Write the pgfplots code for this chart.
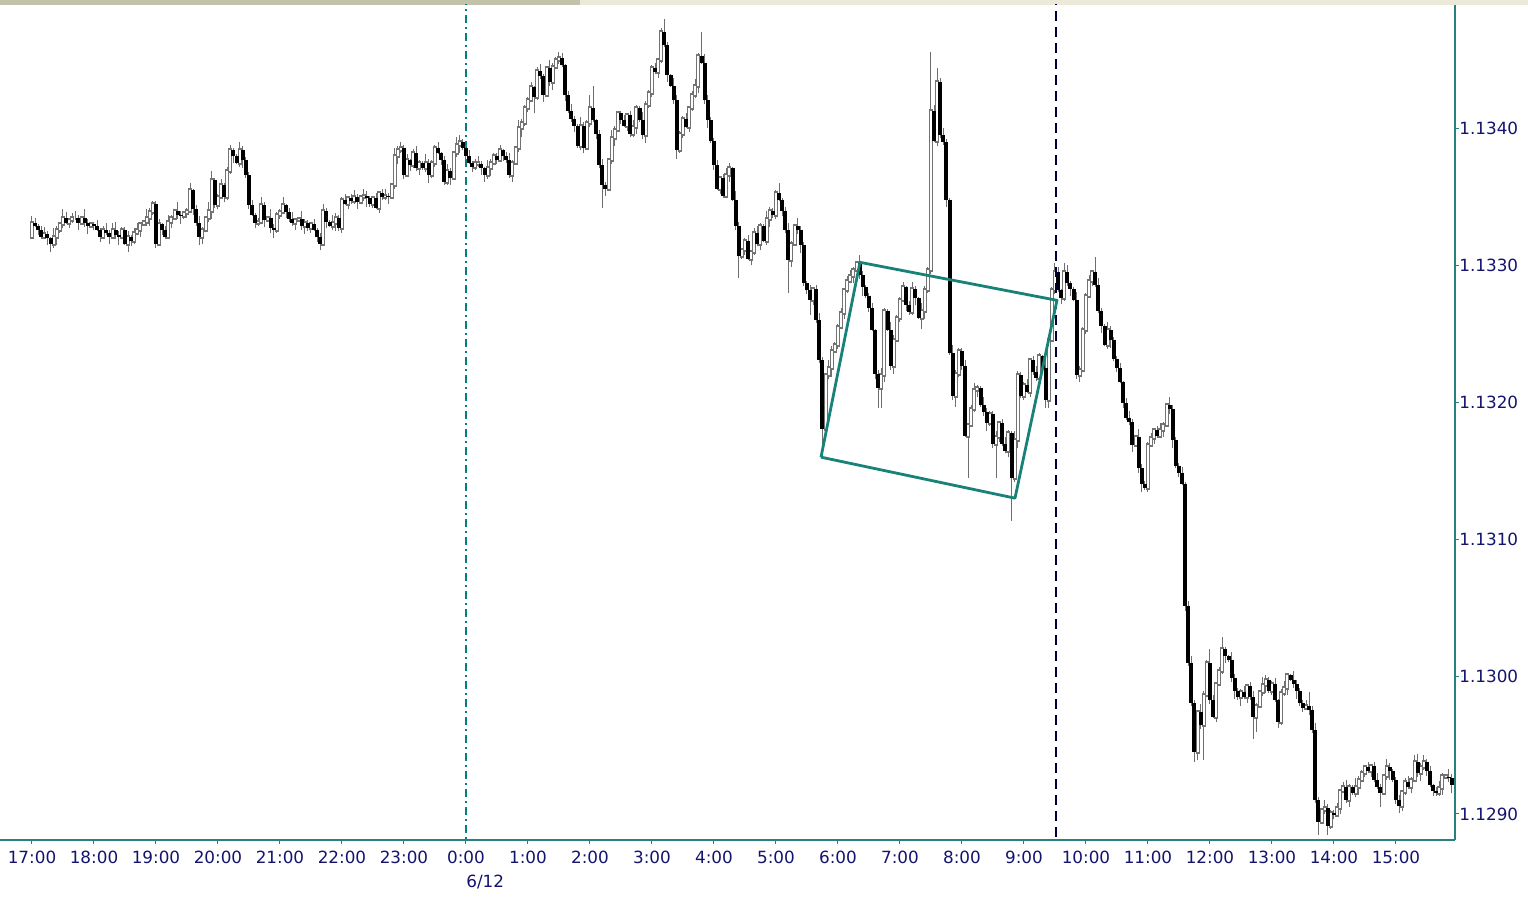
\documentclass[border=0pt]{standalone}
\usepackage{pgfplots}
\pgfplotsset{compat=1.18}
\usepackage{pgfplotstable}
\usepackage{fontspec}
\setmainfont{DejaVu Sans}
\definecolor{axisteal}{RGB}{40,128,128}
\definecolor{tickblue}{RGB}{20,20,110}
\definecolor{wick}{RGB}{110,110,110}
\definecolor{bodygray}{RGB}{115,115,115}
\definecolor{septeal}{RGB}{0,128,128}
\definecolor{cursor}{RGB}{0,0,60}
\definecolor{para}{RGB}{25,130,120}
\definecolor{bardark}{RGB}{196,193,170}
\definecolor{barlight}{RGB}{236,233,216}

\pgfplotstableread{
o h l c
1.13321 1.13336 1.13320 1.13331
1.13331 1.13335 1.13328 1.13329
1.13329 1.13330 1.13322 1.13326
1.13326 1.13329 1.13319 1.13321
1.13321 1.13328 1.13319 1.13323
1.13323 1.13325 1.13315 1.13320
1.13320 1.13321 1.13310 1.13316
1.13316 1.13327 1.13313 1.13321
1.13321 1.13329 1.13315 1.13326
1.13326 1.13332 1.13324 1.13330
1.13330 1.13341 1.13327 1.13335
1.13335 1.13339 1.13330 1.13331
1.13331 1.13334 1.13327 1.13333
1.13333 1.13338 1.13331 1.13335
1.13335 1.13340 1.13333 1.13335
1.13335 1.13337 1.13326 1.13331
1.13331 1.13336 1.13330 1.13335
1.13335 1.13341 1.13328 1.13331
1.13331 1.13334 1.13323 1.13329
1.13329 1.13332 1.13327 1.13330
1.13330 1.13332 1.13326 1.13329
1.13329 1.13333 1.13325 1.13326
1.13326 1.13327 1.13317 1.13321
1.13321 1.13329 1.13319 1.13326
1.13326 1.13331 1.13322 1.13324
1.13324 1.13326 1.13316 1.13321
1.13321 1.13331 1.13320 1.13326
1.13326 1.13332 1.13319 1.13322
1.13322 1.13325 1.13315 1.13321
1.13321 1.13328 1.13319 1.13326
1.13326 1.13328 1.13315 1.13316
1.13316 1.13325 1.13310 1.13321
1.13321 1.13322 1.13314 1.13318
1.13318 1.13327 1.13316 1.13324
1.13324 1.13331 1.13322 1.13326
1.13326 1.13332 1.13321 1.13330
1.13330 1.13333 1.13329 1.13332
1.13332 1.13341 1.13329 1.13335
1.13335 1.13342 1.13329 1.13339
1.13339 1.13347 1.13337 1.13345
1.13345 1.13347 1.13313 1.13316
1.13316 1.13334 1.13315 1.13330
1.13330 1.13331 1.13322 1.13326
1.13326 1.13329 1.13319 1.13321
1.13321 1.13337 1.13319 1.13332
1.13332 1.13337 1.13327 1.13335
1.13335 1.13341 1.13334 1.13340
1.13340 1.13346 1.13334 1.13337
1.13337 1.13340 1.13330 1.13336
1.13336 1.13340 1.13334 1.13338
1.13338 1.13342 1.13335 1.13340
1.13340 1.13360 1.13339 1.13355
1.13355 1.13356 1.13337 1.13341
1.13341 1.13344 1.13329 1.13331
1.13331 1.13336 1.13315 1.13321
1.13321 1.13328 1.13316 1.13326
1.13326 1.13336 1.13325 1.13335
1.13335 1.13346 1.13332 1.13340
1.13340 1.13369 1.13334 1.13362
1.13362 1.13364 1.13342 1.13344
1.13344 1.13352 1.13341 1.13350
1.13350 1.13363 1.13349 1.13359
1.13359 1.13360 1.13346 1.13350
1.13350 1.13372 1.13348 1.13369
1.13369 1.13388 1.13367 1.13384
1.13384 1.13386 1.13375 1.13380
1.13380 1.13381 1.13374 1.13375
1.13375 1.13390 1.13372 1.13384
1.13384 1.13387 1.13371 1.13377
1.13377 1.13379 1.13364 1.13366
1.13366 1.13368 1.13341 1.13344
1.13344 1.13348 1.13336 1.13337
1.13337 1.13338 1.13327 1.13331
1.13331 1.13335 1.13329 1.13332
1.13332 1.13350 1.13330 1.13344
1.13344 1.13346 1.13328 1.13333
1.13333 1.13336 1.13332 1.13335
1.13335 1.13341 1.13324 1.13327
1.13327 1.13330 1.13320 1.13326
1.13326 1.13339 1.13324 1.13337
1.13337 1.13341 1.13334 1.13339
1.13339 1.13350 1.13338 1.13344
1.13344 1.13345 1.13335 1.13339
1.13339 1.13342 1.13332 1.13334
1.13334 1.13339 1.13329 1.13331
1.13331 1.13335 1.13326 1.13333
1.13333 1.13335 1.13332 1.13334
1.13334 1.13340 1.13326 1.13329
1.13329 1.13334 1.13323 1.13331
1.13331 1.13333 1.13325 1.13327
1.13327 1.13332 1.13324 1.13330
1.13330 1.13334 1.13325 1.13326
1.13326 1.13327 1.13317 1.13321
1.13321 1.13324 1.13311 1.13316
1.13316 1.13345 1.13314 1.13340
1.13340 1.13342 1.13327 1.13332
1.13332 1.13333 1.13328 1.13329
1.13329 1.13337 1.13326 1.13331
1.13331 1.13338 1.13325 1.13335
1.13335 1.13337 1.13325 1.13327
1.13327 1.13350 1.13324 1.13348
1.13348 1.13352 1.13344 1.13345
1.13345 1.13350 1.13341 1.13349
1.13349 1.13352 1.13345 1.13347
1.13347 1.13355 1.13345 1.13350
1.13350 1.13352 1.13341 1.13346
1.13346 1.13351 1.13345 1.13350
1.13350 1.13356 1.13347 1.13351
1.13351 1.13354 1.13343 1.13349
1.13349 1.13351 1.13343 1.13345
1.13345 1.13351 1.13342 1.13349
1.13349 1.13353 1.13341 1.13342
1.13342 1.13354 1.13338 1.13353
1.13353 1.13356 1.13348 1.13350
1.13350 1.13356 1.13348 1.13351
1.13351 1.13353 1.13345 1.13350
1.13350 1.13360 1.13349 1.13359
1.13359 1.13386 1.13356 1.13380
1.13380 1.13387 1.13374 1.13384
1.13384 1.13390 1.13382 1.13386
1.13386 1.13388 1.13363 1.13366
1.13366 1.13381 1.13365 1.13377
1.13377 1.13378 1.13369 1.13373
1.13373 1.13385 1.13371 1.13382
1.13382 1.13387 1.13369 1.13371
1.13371 1.13377 1.13366 1.13375
1.13375 1.13376 1.13370 1.13371
1.13371 1.13381 1.13368 1.13375
1.13375 1.13378 1.13360 1.13366
1.13366 1.13377 1.13364 1.13375
1.13375 1.13388 1.13372 1.13386
1.13386 1.13390 1.13381 1.13382
1.13382 1.13383 1.13373 1.13377
1.13377 1.13380 1.13359 1.13361
1.13361 1.13374 1.13359 1.13369
1.13369 1.13371 1.13359 1.13364
1.13364 1.13383 1.13363 1.13382
1.13382 1.13394 1.13379 1.13388
1.13388 1.13395 1.13382 1.13390
1.13390 1.13392 1.13384 1.13386
1.13386 1.13388 1.13377 1.13380
1.13380 1.13384 1.13374 1.13375
1.13375 1.13376 1.13368 1.13372
1.13372 1.13378 1.13370 1.13375
1.13375 1.13380 1.13372 1.13374
1.13374 1.13376 1.13366 1.13371
1.13371 1.13372 1.13361 1.13366
1.13366 1.13377 1.13363 1.13371
1.13371 1.13378 1.13365 1.13375
1.13375 1.13382 1.13373 1.13380
1.13380 1.13382 1.13374 1.13377
1.13377 1.13388 1.13376 1.13384
1.13384 1.13385 1.13376 1.13380
1.13380 1.13383 1.13375 1.13377
1.13377 1.13382 1.13364 1.13366
1.13366 1.13377 1.13361 1.13375
1.13375 1.13387 1.13374 1.13386
1.13386 1.13406 1.13383 1.13400
1.13400 1.13407 1.13394 1.13404
1.13404 1.13417 1.13402 1.13415
1.13415 1.13423 1.13412 1.13421
1.13421 1.13434 1.13420 1.13430
1.13430 1.13431 1.13411 1.13423
1.13423 1.13445 1.13421 1.13442
1.13442 1.13447 1.13436 1.13438
1.13438 1.13440 1.13419 1.13424
1.13424 1.13445 1.13423 1.13444
1.13444 1.13450 1.13431 1.13434
1.13434 1.13448 1.13428 1.13445
1.13445 1.13452 1.13443 1.13450
1.13450 1.13456 1.13447 1.13451
1.13451 1.13455 1.13445 1.13446
1.13446 1.13447 1.13420 1.13424
1.13424 1.13427 1.13411 1.13413
1.13413 1.13418 1.13405 1.13407
1.13407 1.13409 1.13397 1.13402
1.13402 1.13403 1.13386 1.13387
1.13387 1.13408 1.13384 1.13402
1.13402 1.13405 1.13382 1.13386
1.13386 1.13406 1.13384 1.13404
1.13404 1.13424 1.13401 1.13415
1.13415 1.13431 1.13405 1.13406
1.13406 1.13407 1.13392 1.13396
1.13396 1.13399 1.13371 1.13373
1.13373 1.13378 1.13342 1.13359
1.13359 1.13361 1.13351 1.13356
1.13356 1.13378 1.13355 1.13377
1.13377 1.13399 1.13374 1.13393
1.13393 1.13402 1.13387 1.13399
1.13399 1.13413 1.13397 1.13411
1.13411 1.13413 1.13403 1.13406
1.13406 1.13410 1.13401 1.13402
1.13402 1.13411 1.13398 1.13410
1.13410 1.13413 1.13394 1.13396
1.13396 1.13406 1.13394 1.13401
1.13401 1.13417 1.13396 1.13415
1.13415 1.13416 1.13405 1.13406
1.13406 1.13412 1.13392 1.13395
1.13395 1.13420 1.13389 1.13417
1.13417 1.13428 1.13415 1.13426
1.13426 1.13446 1.13423 1.13444
1.13444 1.13448 1.13440 1.13441
1.13441 1.13451 1.13437 1.13450
1.13450 1.13473 1.13448 1.13470
1.13470 1.13480 1.13459 1.13461
1.13461 1.13463 1.13434 1.13439
1.13439 1.13440 1.13430 1.13431
1.13431 1.13437 1.13418 1.13421
1.13421 1.13424 1.13378 1.13384
1.13384 1.13398 1.13382 1.13396
1.13396 1.13409 1.13393 1.13407
1.13407 1.13411 1.13400 1.13401
1.13401 1.13416 1.13397 1.13415
1.13415 1.13427 1.13413 1.13424
1.13424 1.13436 1.13422 1.13431
1.13431 1.13455 1.13426 1.13453
1.13453 1.13470 1.13447 1.13448
1.13448 1.13454 1.13418 1.13421
1.13421 1.13424 1.13400 1.13406
1.13406 1.13408 1.13389 1.13391
1.13391 1.13393 1.13370 1.13373
1.13373 1.13377 1.13355 1.13356
1.13356 1.13365 1.13352 1.13364
1.13364 1.13367 1.13349 1.13351
1.13351 1.13371 1.13349 1.13366
1.13366 1.13375 1.13361 1.13371
1.13371 1.13372 1.13347 1.13348
1.13348 1.13354 1.13326 1.13329
1.13329 1.13332 1.13291 1.13307
1.13307 1.13313 1.13305 1.13311
1.13311 1.13320 1.13308 1.13318
1.13318 1.13322 1.13304 1.13305
1.13305 1.13311 1.13300 1.13310
1.13310 1.13327 1.13308 1.13324
1.13324 1.13329 1.13314 1.13316
1.13316 1.13331 1.13311 1.13329
1.13329 1.13330 1.13317 1.13318
1.13318 1.13340 1.13315 1.13334
1.13334 1.13343 1.13328 1.13340
1.13340 1.13342 1.13335 1.13337
1.13337 1.13355 1.13334 1.13353
1.13353 1.13360 1.13347 1.13348
1.13348 1.13349 1.13336 1.13340
1.13340 1.13343 1.13324 1.13326
1.13326 1.13331 1.13280 1.13304
1.13304 1.13318 1.13299 1.13316
1.13316 1.13330 1.13315 1.13329
1.13329 1.13335 1.13323 1.13326
1.13326 1.13329 1.13309 1.13315
1.13315 1.13317 1.13285 1.13287
1.13287 1.13289 1.13279 1.13282
1.13282 1.13286 1.13264 1.13275
1.13275 1.13284 1.13271 1.13283
1.13283 1.13286 1.13258 1.13260
1.13260 1.13265 1.13229 1.13231
1.13231 1.13233 1.13160 1.13181
1.13181 1.13221 1.13180 1.13220
1.13220 1.13231 1.13217 1.13225
1.13225 1.13241 1.13219 1.13238
1.13238 1.13244 1.13236 1.13242
1.13242 1.13257 1.13239 1.13255
1.13255 1.13269 1.13254 1.13265
1.13265 1.13283 1.13261 1.13282
1.13282 1.13292 1.13280 1.13289
1.13289 1.13297 1.13287 1.13292
1.13292 1.13299 1.13287 1.13297
1.13297 1.13303 1.13296 1.13302
1.13302 1.13308 1.13290 1.13293
1.13293 1.13296 1.13278 1.13284
1.13284 1.13286 1.13276 1.13278
1.13278 1.13280 1.13266 1.13269
1.13269 1.13273 1.13252 1.13253
1.13253 1.13254 1.13217 1.13221
1.13221 1.13224 1.13196 1.13211
1.13211 1.13225 1.13196 1.13220
1.13220 1.13269 1.13215 1.13267
1.13267 1.13268 1.13252 1.13253
1.13253 1.13259 1.13224 1.13227
1.13227 1.13249 1.13221 1.13246
1.13246 1.13264 1.13244 1.13262
1.13262 1.13277 1.13259 1.13275
1.13275 1.13288 1.13274 1.13284
1.13284 1.13285 1.13267 1.13271
1.13271 1.13274 1.13264 1.13266
1.13266 1.13288 1.13264 1.13283
1.13283 1.13285 1.13271 1.13276
1.13276 1.13277 1.13261 1.13262
1.13262 1.13273 1.13254 1.13267
1.13267 1.13285 1.13261 1.13282
1.13282 1.13299 1.13280 1.13297
1.13297 1.13456 1.13294 1.13413
1.13413 1.13417 1.13390 1.13391
1.13391 1.13444 1.13387 1.13434
1.13434 1.13437 1.13393 1.13395
1.13395 1.13400 1.13388 1.13390
1.13390 1.13392 1.13343 1.13348
1.13348 1.13349 1.13235 1.13236
1.13236 1.13242 1.13202 1.13205
1.13205 1.13224 1.13197 1.13221
1.13221 1.13240 1.13219 1.13238
1.13238 1.13240 1.13224 1.13227
1.13227 1.13231 1.13175 1.13176
1.13176 1.13185 1.13145 1.13184
1.13184 1.13198 1.13182 1.13195
1.13195 1.13214 1.13193 1.13209
1.13209 1.13213 1.13204 1.13211
1.13211 1.13212 1.13197 1.13198
1.13198 1.13204 1.13190 1.13193
1.13193 1.13196 1.13179 1.13185
1.13185 1.13194 1.13183 1.13192
1.13192 1.13194 1.13167 1.13170
1.13170 1.13179 1.13145 1.13175
1.13175 1.13186 1.13171 1.13185
1.13185 1.13188 1.13168 1.13170
1.13170 1.13175 1.13163 1.13165
1.13165 1.13180 1.13160 1.13178
1.13178 1.13179 1.13114 1.13145
1.13145 1.13179 1.13142 1.13173
1.13173 1.13223 1.13167 1.13220
1.13220 1.13222 1.13203 1.13205
1.13205 1.13215 1.13202 1.13213
1.13213 1.13217 1.13207 1.13208
1.13208 1.13232 1.13204 1.13231
1.13231 1.13234 1.13220 1.13222
1.13222 1.13227 1.13216 1.13218
1.13218 1.13236 1.13213 1.13234
1.13234 1.13235 1.13224 1.13225
1.13225 1.13231 1.13196 1.13202
1.13202 1.13249 1.13196 1.13246
1.13246 1.13284 1.13244 1.13282
1.13282 1.13302 1.13279 1.13295
1.13295 1.13299 1.13281 1.13282
1.13282 1.13283 1.13272 1.13276
1.13276 1.13302 1.13274 1.13295
1.13295 1.13300 1.13285 1.13287
1.13287 1.13289 1.13278 1.13283
1.13283 1.13284 1.13274 1.13275
1.13275 1.13281 1.13217 1.13220
1.13220 1.13227 1.13215 1.13224
1.13224 1.13255 1.13222 1.13253
1.13253 1.13280 1.13250 1.13278
1.13278 1.13293 1.13277 1.13289
1.13289 1.13296 1.13285 1.13295
1.13295 1.13306 1.13284 1.13286
1.13286 1.13291 1.13265 1.13267
1.13267 1.13269 1.13251 1.13256
1.13256 1.13257 1.13241 1.13242
1.13242 1.13259 1.13239 1.13253
1.13253 1.13256 1.13240 1.13246
1.13246 1.13248 1.13230 1.13232
1.13232 1.13234 1.13222 1.13225
1.13225 1.13229 1.13214 1.13215
1.13215 1.13216 1.13196 1.13200
1.13200 1.13203 1.13187 1.13189
1.13189 1.13194 1.13184 1.13186
1.13186 1.13188 1.13164 1.13169
1.13169 1.13176 1.13168 1.13175
1.13175 1.13181 1.13149 1.13152
1.13152 1.13155 1.13135 1.13141
1.13141 1.13143 1.13136 1.13138
1.13138 1.13171 1.13135 1.13169
1.13169 1.13178 1.13168 1.13174
1.13174 1.13181 1.13170 1.13180
1.13180 1.13183 1.13174 1.13176
1.13176 1.13185 1.13174 1.13180
1.13180 1.13186 1.13175 1.13184
1.13184 1.13199 1.13183 1.13198
1.13198 1.13204 1.13192 1.13195
1.13195 1.13198 1.13167 1.13173
1.13173 1.13175 1.13152 1.13154
1.13154 1.13156 1.13146 1.13149
1.13149 1.13153 1.13140 1.13141
1.13141 1.13142 1.13048 1.13052
1.13052 1.13055 1.13008 1.13010
1.13010 1.13015 1.12979 1.12981
1.12981 1.12983 1.12938 1.12945
1.12945 1.12975 1.12939 1.12974
1.12974 1.12980 1.12962 1.12965
1.12965 1.12990 1.12939 1.12987
1.12987 1.13012 1.12985 1.13010
1.13010 1.13020 1.12980 1.12983
1.12983 1.12987 1.12970 1.12971
1.12971 1.12996 1.12967 1.12995
1.12995 1.13007 1.12993 1.13004
1.13004 1.13029 1.13002 1.13020
1.13020 1.13022 1.13010 1.13015
1.13015 1.13016 1.13011 1.13012
1.13012 1.13018 1.12996 1.12999
1.12999 1.13002 1.12984 1.12990
1.12990 1.12992 1.12983 1.12985
1.12985 1.12991 1.12979 1.12989
1.12989 1.12993 1.12984 1.12985
1.12985 1.12994 1.12981 1.12993
1.12993 1.12996 1.12983 1.12985
1.12985 1.12990 1.12955 1.12971
1.12971 1.12981 1.12960 1.12979
1.12979 1.12990 1.12978 1.12989
1.12989 1.13000 1.12986 1.12994
1.12994 1.13001 1.12988 1.12998
1.12998 1.13000 1.12988 1.12990
1.12990 1.12997 1.12987 1.12995
1.12995 1.12999 1.12982 1.12983
1.12983 1.12984 1.12963 1.12967
1.12967 1.12991 1.12965 1.12988
1.12988 1.12997 1.12986 1.12992
1.12992 1.13003 1.12987 1.13001
1.13001 1.13002 1.12997 1.12998
1.12998 1.13004 1.12992 1.12995
1.12995 1.12998 1.12984 1.12990
1.12990 1.12992 1.12979 1.12981
1.12981 1.12983 1.12974 1.12977
1.12977 1.12983 1.12976 1.12979
1.12979 1.12989 1.12972 1.12976
1.12976 1.12979 1.12959 1.12961
1.12961 1.12966 1.12908 1.12910
1.12910 1.12912 1.12885 1.12894
1.12894 1.12904 1.12893 1.12903
1.12903 1.12910 1.12900 1.12904
1.12904 1.12907 1.12885 1.12891
1.12891 1.12903 1.12889 1.12901
1.12901 1.12903 1.12896 1.12899
1.12899 1.12908 1.12898 1.12904
1.12904 1.12918 1.12900 1.12917
1.12917 1.12923 1.12915 1.12920
1.12920 1.12925 1.12908 1.12910
1.12910 1.12922 1.12905 1.12920
1.12920 1.12921 1.12914 1.12915
1.12915 1.12926 1.12912 1.12920
1.12920 1.12928 1.12914 1.12925
1.12925 1.12932 1.12923 1.12930
1.12930 1.12936 1.12927 1.12934
1.12934 1.12938 1.12930 1.12931
1.12931 1.12936 1.12927 1.12935
1.12935 1.12938 1.12923 1.12925
1.12925 1.12930 1.12918 1.12920
1.12920 1.12922 1.12905 1.12915
1.12915 1.12929 1.12914 1.12928
1.12928 1.12940 1.12925 1.12934
1.12934 1.12937 1.12925 1.12931
1.12931 1.12933 1.12923 1.12925
1.12925 1.12927 1.12907 1.12910
1.12910 1.12914 1.12901 1.12906
1.12906 1.12917 1.12902 1.12916
1.12916 1.12926 1.12914 1.12923
1.12923 1.12928 1.12918 1.12920
1.12920 1.12927 1.12915 1.12925
1.12925 1.12943 1.12924 1.12938
1.12938 1.12944 1.12927 1.12930
1.12930 1.12937 1.12924 1.12934
1.12934 1.12943 1.12932 1.12938
1.12938 1.12940 1.12928 1.12931
1.12931 1.12935 1.12920 1.12921
1.12921 1.12922 1.12913 1.12917
1.12917 1.12920 1.12913 1.12915
1.12915 1.12924 1.12913 1.12919
1.12919 1.12930 1.12914 1.12928
1.12928 1.12929 1.12926 1.12927
1.12927 1.12933 1.12923 1.12926
1.12926 1.12929 1.12915 1.12921
}\candles

% Split the OHLC rows into three coordinate streams (wicks, rising bodies, falling bodies);
% each candle is one segment, candles are separated by nan (jump).
\pgfplotstablegetrowsof{\candles}
\pgfmathtruncatemacro\lastrow{\pgfplotsretval-1}
\gdef\wicks{}\gdef\ups{}\gdef\downs{}
\foreach \i in {0,...,\lastrow}{%
  \pgfplotstablegetelem{\i}{o}\of\candles\let\vo\pgfplotsretval
  \pgfplotstablegetelem{\i}{h}\of\candles\let\vh\pgfplotsretval
  \pgfplotstablegetelem{\i}{l}\of\candles\let\vl\pgfplotsretval
  \pgfplotstablegetelem{\i}{c}\of\candles\let\vc\pgfplotsretval
  \pgfmathsetmacro\xx{\i/20}%
  \xdef\wicks{\wicks(\xx,\vl)(\xx,\vh)(\xx,nan)}%
  \ifdim\vc pt<\vo pt\relax
    \xdef\downs{\downs(\xx,\vo)(\xx,\vc)(\xx,nan)}%
  \else
    \xdef\ups{\ups(\xx,\vo)(\xx,\vc)(\xx,nan)}%
  \fi
}

\begin{document}
\begin{tikzpicture}
\useasboundingbox (0,-29pt) rectangle (764pt,420pt);
\fill[white] (0,-29pt) rectangle (764pt,420pt);
\fill[barlight] (0,417.5pt) rectangle (764pt,420pt);
\fill[bardark] (0,417.5pt) rectangle (290pt,420pt);
\begin{axis}[
  at={(0,0)}, anchor=south west,
  scale only axis, width=727.5pt, height=417.5pt,
  xmin=-0.516, xmax=22.952, ymin=1.12881, ymax=1.13490,
  axis x line*=bottom, axis y line*=right,
  axis line style={axisteal, line width=0.6pt},
  xtick={0,...,22},
  xticklabels={17:00,18:00,19:00,20:00,21:00,22:00,23:00,0:00,1:00,2:00,3:00,4:00,5:00,6:00,7:00,8:00,9:00,10:00,11:00,12:00,13:00,14:00,15:00},
  ytick={1.129,1.130,1.131,1.132,1.133,1.134},
  yticklabels={1.1290,1.1300,1.1310,1.1320,1.1330,1.1340},
  scaled y ticks=false,
  tick align=outside, major tick length=2pt,
  tick style={axisteal, line width=0.5pt},
  every tick label/.append style={font=\fontsize{8.4pt}{12pt}\selectfont, text=tickblue, inner sep=0pt},
  xticklabel style={anchor=north, yshift=-3.5pt},
  yticklabel style={anchor=west, xshift=0pt},
  extra x ticks={7}, extra x tick labels={6/12},
  extra x tick style={major tick length=0pt, xticklabel style={anchor=north west, yshift=-14pt}},
  unbounded coords=jump,
]
\addplot[septeal, line width=0.6pt, dash pattern=on 4pt off 2pt on 1pt off 2pt, forget plot] coordinates {(7,1.1286) (7,1.1350)};
\edef\tmp{\noexpand\addplot[\unexpanded{wick, line width=0.5pt, mark=none, forget plot}] coordinates {\wicks};}\tmp
\edef\tmp{\noexpand\addplot[\unexpanded{bodygray, line width=2pt, line cap=rect, mark=none, forget plot}] coordinates {\ups};}\tmp
\edef\tmp{\noexpand\addplot[\unexpanded{white, line width=1pt, mark=none, forget plot}] coordinates {\ups};}\tmp
\edef\tmp{\noexpand\addplot[\unexpanded{black, line width=2pt, mark=none, forget plot}] coordinates {\downs};}\tmp
\addplot[cursor, line width=0.55pt, dash pattern=on 5pt off 3pt, forget plot] coordinates {(16.516,1.1286) (16.516,1.1350)};
\addplot[para, line width=1.4pt, line join=round, forget plot] coordinates {(12.726,1.131602) (13.355,1.133023) (16.532,1.132746) (15.855,1.131303) (12.726,1.131602)};
\end{axis}
\end{tikzpicture}
\end{document}
